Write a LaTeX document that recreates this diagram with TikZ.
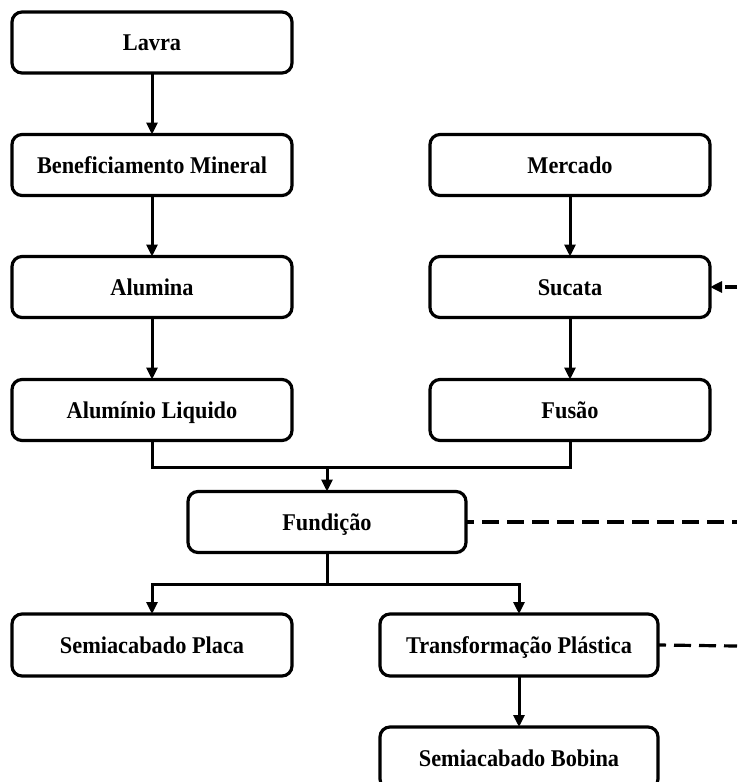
\documentclass[tikz,border=0pt]{standalone}
\usepackage{fontspec}
\setmainfont{Liberation Serif}[FakeStretch=0.93]
\usetikzlibrary{arrows.meta}
\begin{document}
\begin{tikzpicture}[x=1pt,y=-1pt,
  stage/.style={draw, line width=3.2pt, rounded corners=10pt,
    minimum width=280pt, minimum height=61pt, inner sep=0pt, outer sep=0pt,
    text height=21pt, text depth=5pt,
    font=\bfseries\fontsize{24}{28}\selectfont},
  flow/.style={line width=3pt, -{Triangle[length=12pt,width=11pt]}},
  link/.style={line width=3pt},
  feedback/.style={line width=3.2pt, dash pattern=on 17pt off 8pt}]
\clip (0,0) rectangle (737,782);
\useasboundingbox (0,0) rectangle (737,782);

% primary aluminium route
\node[stage] (lavra)   at (152,42.5) {Lavra};
\node[stage] (benef)   at (152,165)  {Beneficiamento Mineral};
\node[stage] (alumina) at (152,287)  {Alumina};
\node[stage] (liquido) at (152,410)  {Alumínio Liquido};

% recycling route
\node[stage] (mercado) at (570,165) {Mercado};
\node[stage] (sucata)  at (570,287) {Sucata};
\node[stage] (fusao)   at (570,410) {Fusão};

% casting and products
\node[stage, minimum width=278pt] (fundicao) at (327,522) {Fundição};
\node[stage, minimum height=62pt] (placa) at (152,645) {Semiacabado Placa};
\node[stage, minimum width=278pt, minimum height=62pt] (transf) at (519,645) {Transformação Plástica};
\node[stage, minimum width=278pt, minimum height=62pt] (bobina) at (519,758) {Semiacabado Bobina};

\draw[flow] (lavra) -- (benef);
\draw[flow] (benef) -- (alumina);
\draw[flow] (alumina) -- (liquido);
\draw[flow] (mercado) -- (sucata);
\draw[flow] (sucata) -- (fusao);

% merge into casting
\coordinate (merge) at (fundicao.north |- 0,467);
\draw[link] (liquido.south) |- (merge) -| (fusao.south);
\draw[flow] (merge) -- (fundicao.north);

% split after casting
\coordinate (split) at (fundicao.south |- 0,584);
\draw[link] (fundicao.south) -- (split);
\draw[flow] (split) -| (placa.north);
\draw[flow] (split) -| (transf.north);
\draw[flow] (transf) -- (bobina);

% scrap return lines
\coordinate (retF) at (737,522);
\coordinate (retT) at (737,646);
\coordinate (retS) at (737,287);
\draw[feedback, dash phase=9pt] (fundicao.east) -- (retF);
\draw[feedback, dash phase=9pt] (transf.east) -- (retT);
\draw[feedback, dash phase=5pt, -{Triangle[length=12pt,width=11pt]}] (retS) -- (sucata.east);
\end{tikzpicture}
\end{document}
